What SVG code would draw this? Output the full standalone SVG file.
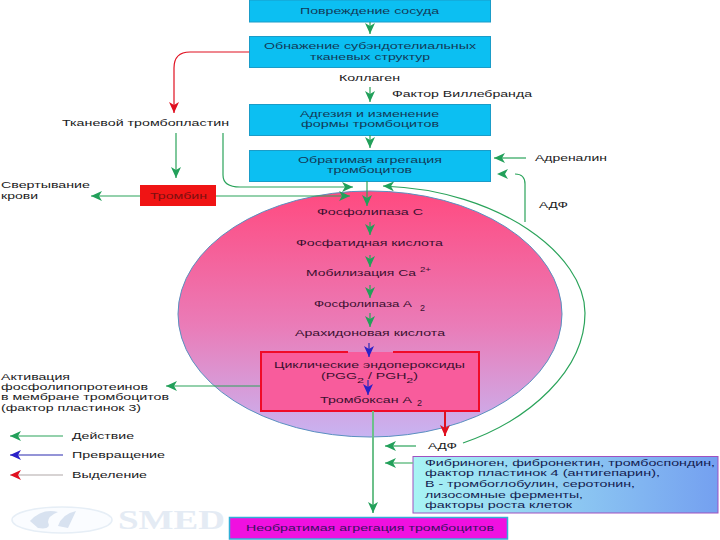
<svg xmlns="http://www.w3.org/2000/svg" width="720" height="540" viewBox="0 0 720 540">
<style>
text{font-family:"Liberation Sans",Arial,sans-serif;font-size:9px;fill:#1a1a22;dominant-baseline:central}
.b{fill:#0cbff2;stroke:#1a9cc8;stroke-width:1}
.bt{fill:#123a58}
.ft{fill:#141c50}
.pt{fill:#3a1030}
.g,.bl,.r{fill:none;stroke-width:1.2}
.g{stroke:#2aa35a;marker-end:url(#mg)}
.bl{stroke:#2a2ab0;marker-end:url(#mb)}
.r{stroke:#e01020;marker-end:url(#mr)}
.plain{fill:none;stroke:#2aa35a;stroke-width:1.2}
</style>
<defs>
<marker id="mg" markerUnits="userSpaceOnUse" markerWidth="12" markerHeight="10" refX="11" refY="5" orient="auto"><path d="M0,0 L11,5 L0,10 L3,5z" fill="#22a05a"/></marker>
<marker id="mb" markerUnits="userSpaceOnUse" markerWidth="12" markerHeight="10" refX="11" refY="5" orient="auto"><path d="M0,0 L11,5 L0,10 L3,5z" fill="#2a20c8"/></marker>
<marker id="mr" markerUnits="userSpaceOnUse" markerWidth="12" markerHeight="10" refX="11" refY="5" orient="auto"><path d="M0,0 L11,5 L0,10 L3,5z" fill="#e01020"/></marker>
<linearGradient id="eg" x1="0" y1="0" x2="0" y2="1"><stop offset="0" stop-color="#ff4a80"/><stop offset="0.55" stop-color="#ea7cb8"/><stop offset="1" stop-color="#c8b4f2"/></linearGradient>
<linearGradient id="fg" x1="0" y1="0" x2="1" y2="0"><stop offset="0" stop-color="#a8f4f4"/><stop offset="1" stop-color="#74a0f0"/></linearGradient>
</defs>

<g id="watermark">
<ellipse cx="62" cy="520" rx="50" ry="13" fill="#fafcff" stroke="#e6eef6" stroke-width="1.5"/>
<path d="M30,521 Q42,508 58,512 Q48,516 48,522 Q52,530 38,528z M58,526 Q62,514 76,511 L68,528z" fill="#d8e2f0"/>
<text x="118" y="520" textLength="107" lengthAdjust="spacingAndGlyphs" style="font-family:'Liberation Serif',serif;font-size:27px;font-weight:bold;fill:#e4ebf4">SMED</text>
</g>

<g id="n-sphere"><ellipse cx="370" cy="314" rx="192" ry="123" fill="url(#eg)" stroke="#5a90c0" stroke-width="1"/></g>

<g id="n-povrezhdenie"><rect class="b" x="249.500" y="0" width="241" height="22"/><text class="bt" x="300" y="11" textLength="139" lengthAdjust="spacingAndGlyphs">Повреждение сосуда</text></g>
<g id="n-obnazhenie"><rect class="b" x="249.500" y="36.500" width="241" height="31"/><text class="bt" x="264" y="46" textLength="212" lengthAdjust="spacingAndGlyphs">Обнажение субэндотелиальных</text><text class="bt" x="310" y="57" textLength="120" lengthAdjust="spacingAndGlyphs">тканевых структур</text></g>
<g id="n-adgeziya"><rect class="b" x="249.500" y="104.500" width="241" height="31"/><text class="bt" x="300" y="114" textLength="139" lengthAdjust="spacingAndGlyphs">Адгезия и изменение</text><text class="bt" x="301" y="124" textLength="138" lengthAdjust="spacingAndGlyphs">формы тромбоцитов</text></g>
<g id="n-obratimaya"><rect class="b" x="249.500" y="150.500" width="241" height="31"/><text class="bt" x="298" y="160" textLength="144" lengthAdjust="spacingAndGlyphs">Обратимая агрегация</text><text class="bt" x="327" y="170" textLength="85" lengthAdjust="spacingAndGlyphs">тромбоцитов</text></g>

<g id="n-labels">
<text x="339" y="78" textLength="61" lengthAdjust="spacingAndGlyphs">Коллаген</text>
<text x="392" y="94" textLength="140" lengthAdjust="spacingAndGlyphs">Фактор Виллебранда</text>
<text x="62" y="123" textLength="167" lengthAdjust="spacingAndGlyphs">Тканевой тромбопластин</text>
<text x="535" y="158" textLength="72" lengthAdjust="spacingAndGlyphs">Адреналин</text>
<text x="539" y="205" textLength="29" lengthAdjust="spacingAndGlyphs">АДФ</text>
<text x="1" y="185" textLength="89" lengthAdjust="spacingAndGlyphs">Свертывание</text>
<text x="1" y="196" textLength="37" lengthAdjust="spacingAndGlyphs">крови</text>
<text x="428" y="446" textLength="29" lengthAdjust="spacingAndGlyphs">АДФ</text>
</g>

<g id="n-trombin"><rect x="140" y="185" width="76" height="21" fill="#f01414"/><text x="150" y="196" textLength="57" lengthAdjust="spacingAndGlyphs" style="fill:#7a1010">Тромбин</text></g>

<g id="n-sphere-text">
<text class="pt" x="317" y="212" textLength="106" lengthAdjust="spacingAndGlyphs">Фосфолипаза С</text>
<text class="pt" x="296" y="243" textLength="147" lengthAdjust="spacingAndGlyphs">Фосфатидная кислота</text>
<text class="pt" x="306" y="273" textLength="110" lengthAdjust="spacingAndGlyphs">Мобилизация Ca</text>
<text class="pt" x="420" y="269" textLength="11" lengthAdjust="spacingAndGlyphs" style="font-size:8px">2+</text>
<text class="pt" x="314" y="304" textLength="98" lengthAdjust="spacingAndGlyphs">Фосфолипаза А</text>
<text class="pt" x="420" y="308" style="font-size:9px">2</text>
<text class="pt" x="295" y="333" textLength="150" lengthAdjust="spacingAndGlyphs">Арахидоновая кислота</text>
</g>

<g id="n-cyclic">
<rect x="261" y="352" width="218" height="59" fill="#f85c9c"/>
<path d="M348,352H261V411H479V352H393" fill="none" stroke="#f00a28" stroke-width="2"/>
<text class="pt" x="274" y="365" textLength="191" lengthAdjust="spacingAndGlyphs">Циклические эндопероксиды</text>
<text class="pt" x="321" y="376" textLength="97" lengthAdjust="spacingAndGlyphs">(PGG<tspan baseline-shift="sub" font-size="8">2</tspan> / PGH<tspan baseline-shift="sub" font-size="8">2</tspan>)</text>
<text class="pt" x="320" y="400" textLength="92" lengthAdjust="spacingAndGlyphs">Тромбоксан А</text>
<text class="pt" x="417" y="403" style="font-size:9px">2</text>
</g>

<g id="n-activation">
<text x="1" y="377" textLength="69" lengthAdjust="spacingAndGlyphs">Активация</text>
<text x="1" y="387" textLength="147" lengthAdjust="spacingAndGlyphs">фосфолипопротеинов</text>
<text x="1" y="397" textLength="168" lengthAdjust="spacingAndGlyphs">в мембране тромбоцитов</text>
<text x="1" y="408" textLength="140" lengthAdjust="spacingAndGlyphs">(фактор пластинок 3)</text>
</g>

<g id="n-legend">
<text x="72" y="436" textLength="62" lengthAdjust="spacingAndGlyphs">Действие</text>
<text x="72" y="455" textLength="93" lengthAdjust="spacingAndGlyphs">Превращение</text>
<text x="72" y="475" textLength="75" lengthAdjust="spacingAndGlyphs">Выделение</text>
</g>

<g id="n-factors">
<rect x="413" y="456.500" width="305" height="56.500" fill="url(#fg)" stroke="#a050c0" stroke-width="1"/>
<text class="ft" x="425" y="463" textLength="290" lengthAdjust="spacingAndGlyphs">Фибриноген, фибронектин, тромбоспондин,</text>
<text class="ft" x="425" y="473" textLength="235" lengthAdjust="spacingAndGlyphs">фактор пластинок 4 (антигепарин),</text>
<text class="ft" x="425" y="484" textLength="210" lengthAdjust="spacingAndGlyphs">В - тромбоглобулин, серотонин,</text>
<text class="ft" x="425" y="495" textLength="158" lengthAdjust="spacingAndGlyphs">лизосомные ферменты,</text>
<text class="ft" x="425" y="505" textLength="147" lengthAdjust="spacingAndGlyphs">факторы роста клеток</text>
</g>

<g id="n-final"><rect x="229.500" y="517.500" width="278" height="21.500" fill="#f010e0" stroke="#30b0d8" stroke-width="1.500"/><text x="246" y="528" textLength="248" lengthAdjust="spacingAndGlyphs" style="fill:#3a1060">Необратимая агрегация тромбоцитов</text></g>

<g id="connectors">
<path class="g" d="M370,22V34"/>
<path class="g" d="M370,87V102"/>
<path class="g" d="M370,135V148"/>
<path class="g" d="M367,181V206"/>
<path class="g" d="M370,222V235"/>
<path class="g" d="M370,255V267"/>
<path class="g" d="M370,285V298"/>
<path class="g" d="M370,313V327"/>
<path class="bl" d="M369,343V357"/>
<path class="bl" d="M368,380V395"/>
<path class="r" d="M249,52H190Q174,52 174,68V113"/>
<path class="g" d="M176,133V178"/>
<path class="g" d="M223,133V175Q223,187 240,187H353"/>
<path class="g" d="M140,196H91"/>
<path class="g" d="M216,196H350"/>
<path class="g" d="M526,158H494"/>
<path class="g" d="M463,443C530,420 585,370 585,313C585,255 500,190 383,186"/>
<path class="plain" d="M525,222V184Q525,174 515,174"/>
<path class="g" d="M505,174H497" style="stroke:none"/>
<path class="g" d="M260,386H166"/>
<path class="r" d="M445,411V436" style="stroke-width:2"/>
<path class="g" d="M416,446H385"/>
<path class="g" d="M413,463H385" style="stroke:#6cc08a;stroke-width:1.500"/>
<path class="g" d="M373,411V513" style="stroke:#6cc08a;stroke-width:2"/>
<path class="g" d="M63,436H10"/>
<path class="bl" d="M63,455H10"/>
<path class="r" d="M63,475H10" style="stroke:#b0a8a8"/>
</g>
</svg>
